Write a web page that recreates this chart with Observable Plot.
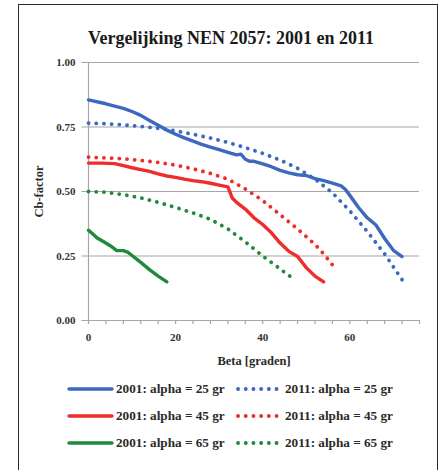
<!DOCTYPE html>
<html>
<head>
<meta charset="utf-8">
<script src="https://cdn.jsdelivr.net/npm/d3@7"></script>
<script src="https://cdn.jsdelivr.net/npm/@observablehq/plot@0.6"></script>
<style>
  html, body { margin: 0; padding: 0; background: #fff; overflow: hidden; }
  #page { position: relative; width: 446px; height: 470px; overflow: hidden; font-family: "Liberation Serif", "DejaVu Serif", serif; }
  #frame { position: absolute; left: 18px; top: 4px; width: 420px; height: 490px; border: 1.6px solid #2a2a2a; box-sizing: border-box; }
  #title { position: absolute; left: 0; width: 462px; top: 28px; text-align: center; font-weight: bold; font-size: 18px; color: #1a1a1a; }
  #chart { position: absolute; left: 0; top: 0; }
  .leg { position: absolute; font-weight: bold; font-size: 13.2px; color: #2a2a2a; white-space: nowrap; }
  .leg svg { position: absolute; }
</style>
</head>
<body>
<div id="page">
  <div id="frame"></div>
  <div id="chart"></div>
  <div id="title">Vergelijking NEN 2057: 2001 en 2011</div>
  <div id="legend"></div>
</div>
<script>
// ---- data ----
const title = "Vergelijking NEN 2057: 2001 en 2011";
const xLabel = "Beta [graden]";
const yLabel = "Cb-factor";
const yTicks = [0, 0.25, 0.5, 0.75, 1];
const xLabelTicks = [0, 20, 40, 60];
const xMinorTicks = [0, 4, 8, 12, 16, 20, 24, 28, 32, 36, 40, 44, 48, 52, 56, 60, 64, 68, 72, 76];

const beta2001a25 = [0, 4, 8, 10, 12, 14, 16, 18, 20, 22, 24, 26, 28, 30, 32, 34, 35, 36, 37, 38, 40, 42, 44, 46, 48, 50, 52, 54, 56, 58, 59, 60, 62, 64, 66, 68, 70, 72];
const cb2001a25   = [0.855, 0.84, 0.822, 0.81, 0.795, 0.775, 0.757, 0.738, 0.722, 0.708, 0.695, 0.683, 0.672, 0.662, 0.652, 0.642, 0.645, 0.625, 0.617, 0.617, 0.607, 0.596, 0.582, 0.572, 0.565, 0.562, 0.55, 0.542, 0.532, 0.522, 0.508, 0.485, 0.438, 0.398, 0.37, 0.318, 0.272, 0.248];

const beta2011a25 = [0, 4, 8, 12, 16, 20, 24, 28, 32, 36, 40, 44, 48, 52, 56, 60, 64, 68, 72];
const cb2011a25   = [0.765, 0.763, 0.758, 0.752, 0.745, 0.735, 0.722, 0.707, 0.69, 0.67, 0.648, 0.622, 0.59, 0.548, 0.495, 0.425, 0.345, 0.258, 0.158];

const beta2001a45 = [0, 3, 6, 8, 10, 12, 14, 16, 18, 20, 22, 24, 26, 28, 30, 32, 33, 34, 36, 38, 40, 42, 44, 46, 48, 50, 52, 54];
const cb2001a45   = [0.61, 0.61, 0.608, 0.6, 0.592, 0.585, 0.578, 0.568, 0.56, 0.555, 0.548, 0.542, 0.538, 0.532, 0.525, 0.518, 0.475, 0.458, 0.432, 0.398, 0.372, 0.34, 0.3, 0.268, 0.248, 0.205, 0.172, 0.15];

const beta2011a45 = [0, 4, 8, 12, 16, 20, 24, 28, 32, 36, 40, 44, 48, 52, 54, 57];
const cb2011a45   = [0.633, 0.63, 0.627, 0.62, 0.613, 0.602, 0.588, 0.57, 0.548, 0.51, 0.465, 0.41, 0.355, 0.295, 0.258, 0.195];

const beta2001a65 = [0, 1, 2, 3.5, 5, 6.5, 8, 9, 10, 12, 14, 16, 18];
const cb2001a65   = [0.35, 0.335, 0.32, 0.305, 0.29, 0.271, 0.271, 0.265, 0.252, 0.225, 0.197, 0.172, 0.15];

const beta2011a65 = [0, 4, 8, 12, 16, 20, 24, 28, 32, 36, 40, 44, 47];
const cb2011a65   = [0.5, 0.497, 0.488, 0.475, 0.458, 0.438, 0.417, 0.392, 0.355, 0.305, 0.25, 0.2, 0.162];

const seriesNames  = ["2001: alpha = 25 gr", "2011: alpha = 25 gr", "2001: alpha = 45 gr", "2011: alpha = 45 gr", "2001: alpha = 65 gr", "2011: alpha = 65 gr"];
const seriesColors = ["#3c69bf", "#3c69bf", "#ee2c2c", "#ee2c2c", "#1f8a3b", "#1f8a3b"];
const seriesDotted = [false, true, false, true, false, true];
const seriesBeta = [beta2001a25, beta2011a25, beta2001a45, beta2011a45, beta2001a65, beta2011a65];
const seriesCb   = [cb2001a25, cb2011a25, cb2001a45, cb2011a45, cb2001a65, cb2011a65];

// ---- build ----
const rows = seriesNames.map((name, i) => seriesBeta[i].map((b, j) => ({series: name, beta: b, cb: seriesCb[i][j]})));

const font = "'Liberation Serif', 'DejaVu Serif', serif";
const gridColor = "#a6a6a6";

const lineMarks = rows.map((data, i) => Plot.line(data, {
  x: "beta", y: "cb",
  stroke: seriesColors[i],
  strokeWidth: seriesDotted[i] ? 3.8 : 3.4,
  strokeDasharray: seriesDotted[i] ? "0.1 7.6" : null,
  strokeLinecap: "round",
  strokeLinejoin: "round"
}));

const chart = Plot.plot({
  width: 446,
  height: 372,
  marginLeft: 88,
  marginRight: 27,
  marginTop: 62,
  marginBottom: 52,
  style: {fontFamily: font, background: "transparent", overflow: "visible"},
  x: {domain: [0, 76]},
  y: {domain: [0, 1]},
  marks: [
    Plot.ruleY(yTicks, {x1: -1.5, x2: 76, stroke: gridColor, strokeWidth: 1.2}),
    Plot.ruleX([0], {y1: 0, y2: 1, stroke: gridColor, strokeWidth: 1.2}),
    Plot.axisX({ticks: xMinorTicks, tickSize: 4, tickFormat: () => "", stroke: gridColor, strokeWidth: 1.2, label: null}),
    Plot.axisX({ticks: xLabelTicks, tickSize: 0, tickPadding: 13, tickFormat: d3.format("d"),
      fontSize: 11, fontWeight: "bold", fill: "#333",
      label: xLabel, labelAnchor: "center", labelOffset: 44, labelArrow: false}),
    Plot.axisY({ticks: yTicks, tickSize: 0, tickPadding: 13, tickFormat: d3.format(".2f"),
      fontSize: 11, fontWeight: "bold", fill: "#333",
      label: yLabel, labelAnchor: "center", labelOffset: 54, labelArrow: false}),
    ...lineMarks
  ]
});
// bold axis titles
chart.querySelectorAll("g[aria-label='x-axis label'] text, g[aria-label='y-axis label'] text").forEach(t => {
  t.setAttribute("font-weight", "bold");
  t.setAttribute("font-size", "12.5");
  t.setAttribute("fill", "#2a2a2a");
});
document.getElementById("chart").append(chart);

// ---- legend ----
const legend = document.getElementById("legend");
const rowY = [389, 416, 443];
seriesNames.forEach((name, i) => {
  const r = Math.floor(i / 2), c = i % 2;
  const x0 = c === 0 ? 67 : 236;
  const el = document.createElement("div");
  el.className = "leg";
  el.style.left = x0 + "px";
  el.style.top = (rowY[r] - 8) + "px";
  el.style.height = "16px";
  const ns = "http://www.w3.org/2000/svg";
  const svg = document.createElementNS(ns, "svg");
  svg.setAttribute("width", 48); svg.setAttribute("height", 16);
  svg.style.left = "0px"; svg.style.top = "0px";
  const ln = document.createElementNS(ns, "line");
  ln.setAttribute("x1", 2); ln.setAttribute("x2", 45); ln.setAttribute("y1", 8); ln.setAttribute("y2", 8);
  ln.setAttribute("stroke", seriesColors[i]);
  ln.setAttribute("stroke-width", seriesDotted[i] ? 3.8 : 3.4);
  ln.setAttribute("stroke-linecap", "round");
  if (seriesDotted[i]) ln.setAttribute("stroke-dasharray", "0.1 7.6");
  svg.append(ln);
  el.append(svg);
  const sp = document.createElement("span");
  sp.textContent = name;
  sp.style.position = "absolute"; sp.style.left = "49px"; sp.style.top = "0px"; sp.style.lineHeight = "16px";
  el.append(sp);
  legend.append(el);
});
</script>
</body>
</html>
